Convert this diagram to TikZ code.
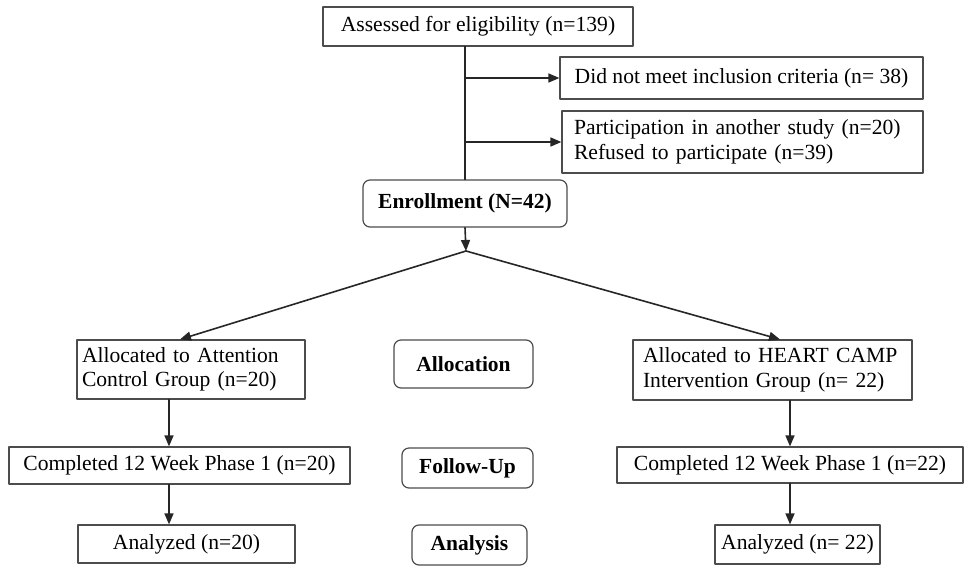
\documentclass[tikz,border=0pt]{standalone}
\usepackage{fontspec}
\setmainfont{Liberation Serif}
\usepackage{tikz}
\usetikzlibrary{arrows.meta}

\begin{document}
\begin{tikzpicture}[line cap=round,line join=round,>={Triangle[length=11pt,width=9pt]},x=1pt,y=-1pt]
\useasboundingbox (0,0) rectangle (966,568);
\tikzstyle{plainbox}= [draw=black!70, line width=1.2pt, inner sep=0pt, font=\fontsize{21.6}{24.5}\selectfont];
\tikzstyle{stagebox}= [plainbox, rounded corners=7pt, font=\fontsize{21.5}{24}\selectfont\bfseries];
\tikzstyle{flow}= [line width=1.6pt, color=black!85];
\node[plainbox, minimum width=310, minimum height=39] (assess) at (478,26.5) {Assessed for eligibility (n=139)};
\node[plainbox, minimum width=363, minimum height=42] (nomeet) at (741.5,78) {Did not meet inclusion criteria (n= 38)};
\node[plainbox, minimum height=62, inner xsep=12pt, text width=337, align=left] (other) at (742.5,142) {Participation in another study (n=20)\\Refused to participate (n=39)};
\node[stagebox, minimum width=204, minimum height=47] (enrol) at (465,203.5) {Enrollment (N=42)};
\coordinate (split) at (466,251);
\node[plainbox, minimum height=59, inner xsep=5pt, text width=218, align=left] (ctrl) at (191,369.5) {Allocated to Attention\\Control Group (n=20)};
\node[stagebox, minimum width=139, minimum height=48] (alloc) at (463.5,364) {Allocation\hspace{13pt}};
\node[plainbox, minimum height=60, inner xsep=10pt, text width=259, align=left] (heart) at (772.5,370) {Allocated to HEART CAMP\\Intervention Group (n= 22)};
\node[plainbox, minimum width=341, minimum height=37] (done1) at (179.5,465.5) {Completed 12 Week Phase 1 (n=20)};
\node[stagebox, minimum width=131, minimum height=40] (follow) at (467.5,468) {Follow-Up};
\node[plainbox, minimum width=346, minimum height=36] (done2) at (790,465) {Completed 12 Week Phase 1 (n=22)};
\node[plainbox, minimum width=217, minimum height=38] (ana1) at (186.5,544) {Analyzed (n=20)};
\node[stagebox, minimum width=115, minimum height=40] (analysis) at (469.5,545) {Analysis};
\node[plainbox, minimum width=165, minimum height=39] (ana2) at (797.5,544.5) {Analyzed (n= 22)};
\coordinate (lcol) at (169,0);
\coordinate (rcol) at (790,0);
% screening
\draw [flow] (enrol.north |- assess.south) -- (enrol.north);
\draw [flow,->] (enrol.north |- nomeet.west) -- (nomeet.west);
\draw [flow,->] (enrol.north |- other.west) -- (other.west);
\draw [flow,->] (enrol.south) -- (split);
% allocation
\draw [flow,->] (split) -- ([xshift=-11pt]ctrl.north);
\draw [flow,->] (split) -- ([xshift=7.5pt]heart.north);
\draw [flow,->] (ctrl.south -| lcol) -- (done1.north -| lcol);
\draw [flow,->] (done1.south -| lcol) -- (ana1.north -| lcol);
\draw [flow,->] (heart.south -| rcol) -- (done2.north -| rcol);
\draw [flow,->] (done2.south -| rcol) -- (ana2.north -| rcol);
\end{tikzpicture}
\end{document}
